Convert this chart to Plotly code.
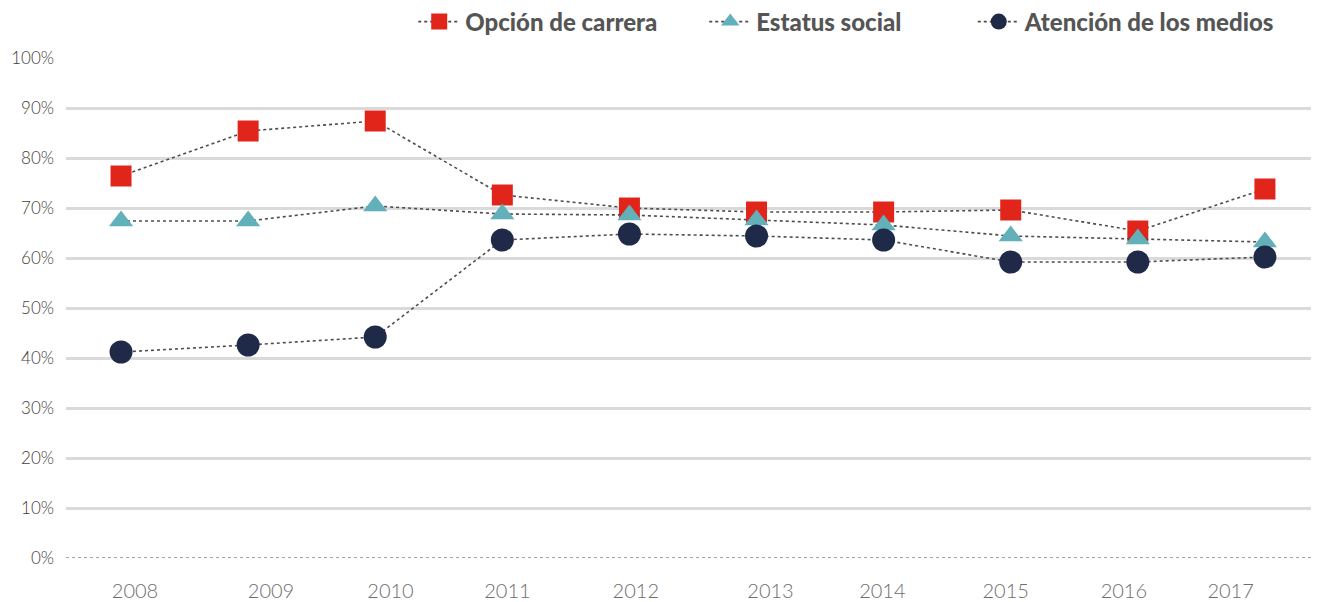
import plotly.graph_objects as go

years = [2008, 2009, 2010, 2011, 2012, 2013, 2014, 2015, 2016, 2017]
opcion_carrera = [76.4, 85.4, 87.4, 72.6, 70.0, 69.2, 69.2, 69.6, 65.4, 73.8]
estatus_social = [67.4, 67.4, 70.4, 68.8, 68.6, 67.6, 66.6, 64.4, 63.8, 63.2]
atencion_medios = [41.2, 42.6, 44.2, 63.6, 64.8, 64.4, 63.6, 59.2, 59.2, 60.2]
pct_ticks = list(range(0, 101, 10))

# year labels sit a little off the points in the original
label_shift = [0.11, 0.18, 0.12, 0.04, 0.05, 0.11, -0.01, -0.04, -0.11, -0.27]

series = [
    ("Opción de carrera", opcion_carrera, "square", "#E1251B", 21, "legend", 0.278),
    ("Estatus social", estatus_social, "triangle-up", "#62B0BA", 21, "legend2", 0.511),
    ("Atención de los medios", atencion_medios, "circle", "#1F2A48", 23, "legend3", 0.726),
]

fig = go.Figure()
for name, vals, sym, col, size, leg, _ in series:
    fig.add_trace(go.Scatter(
        x=years, y=vals, name=name, mode="lines+markers", legend=leg,
        line=dict(color="#4D4D4D", width=1.6, dash="dot"),
        marker=dict(symbol=sym, color=col, size=size, line=dict(width=0)),
    ))

fig.add_shape(type="line", xref="paper", x0=0, x1=1, yref="y", y0=0, y1=0,
              line=dict(color="white", width=4), layer="above")
fig.add_shape(type="line", xref="paper", x0=0, x1=1, yref="y", y0=0, y1=0,
              line=dict(color="#444444", width=1.2, dash="dot"), layer="above")

legend_style = dict(orientation="h", xanchor="left", y=1.072, yanchor="middle",
                    font=dict(family="Lato", size=24, color="#555555", weight=900),
                    itemwidth=42, bgcolor="rgba(0,0,0,0)", borderwidth=0)
legends = {}
for _, _, _, _, _, leg, lx in series:
    legends[leg] = dict(legend_style, x=lx)

# page body has an 8px margin, so the figure is a bit smaller than the window
fig.update_layout(
    width=1311, height=594,
    margin=dict(l=58, r=4, t=50, b=44, autoexpand=False),
    plot_bgcolor="white", paper_bgcolor="white",
    font=dict(family="Lato", color="#595959"),
    showlegend=True,
    **legends,
    xaxis=dict(range=[2007.567, 2017.394], tickvals=[y + s for y, s in zip(years, label_shift)],
               ticktext=[str(y) for y in years], showgrid=False, zeroline=False,
               showline=False, ticks="", ticklabelstandoff=19,
               tickfont=dict(family="Lato", size=20, color="#6E6E6E", weight=300)),
    yaxis=dict(range=[0, 100], tickvals=pct_ticks, ticktext=[f"{v}%" for v in pct_ticks],
               showgrid=True, gridcolor="#DADADA", gridwidth=3, zeroline=False,
               showline=False, ticks="", ticklabelstandoff=11,
               tickfont=dict(family="Lato", size=17, color="#404040", weight=300)),
)

fig.write_html("out.html")
